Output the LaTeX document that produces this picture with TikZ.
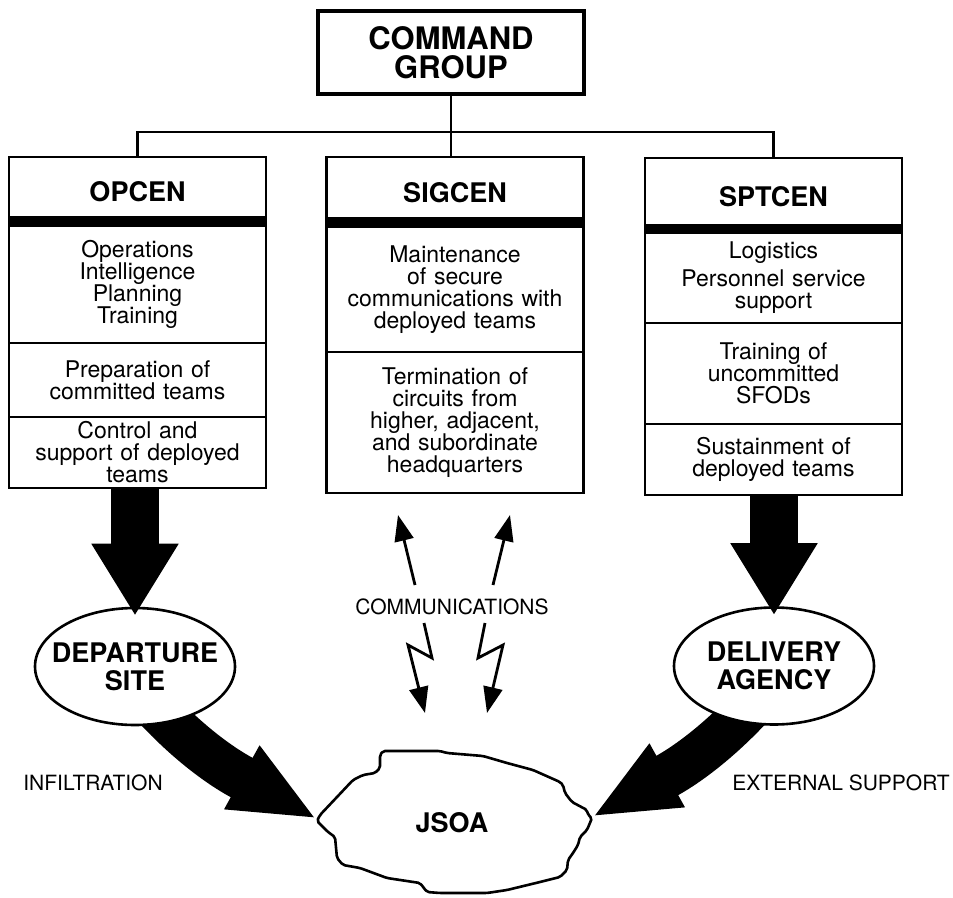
\documentclass[tikz,border=0pt]{standalone}
\usepackage{fontspec}
\setmainfont{TeX Gyre Heros}
\usetikzlibrary{arrows.meta, positioning, shapes.geometric, calc}
\pgfdeclarelayer{back}
\pgfsetlayers{back,main}

\tikzset{
  cell/.style={draw, line width=1.8pt, fill=white, text width=244pt, align=center,
    minimum width=257pt, inner sep=0pt, outer sep=0pt, font=\fontsize{23}{22}\selectfont},
  head/.style={cell, line width=2.8pt, font=\bfseries\fontsize{27}{29}\selectfont},
  colhead/.style={head, text height=29pt, text depth=0pt},
  site/.style={draw, ellipse, line width=2.6pt, fill=white, align=center,
    inner xsep=-20pt, inner ysep=0pt, minimum width=200pt, minimum height=117pt,
    font=\bfseries\fontsize{27}{28}\selectfont},
  fatarrow/.style={line width=48pt, -{Triangle[length=72pt,width=82pt]}},
  bentarrow/.style={line width=45pt, -{Triangle[length=86pt,width=66pt]}},
  commarrow/.style={line width=2.8pt, -{Triangle[length=26pt,width=19pt]}},
  caption/.style={font=\fontsize{21}{22}\selectfont},
}

\begin{document}
\begin{tikzpicture}[x=1pt, y=1pt]
\useasboundingbox (0,0) rectangle (953,-897);

% command group
\node[head, line width=3.6pt, minimum width=266pt, minimum height=83pt, anchor=north,
  font=\bfseries\fontsize{31}{29}\selectfont] (cmd) at (451,-11) {COMMAND\\GROUP};

% OPCEN
\node[colhead, minimum height=60pt, anchor=north] (opcen) at (137.5,-157) {OPCEN};
\node[cell, minimum height=117pt, below=9pt of opcen] (opA) {Operations\\Intelligence\\Planning\\Training};
\node[cell, minimum height=74pt, below=0pt of opA] (opB) {Preparation of\\committed teams};
\node[cell, minimum height=71pt, below=0pt of opB] (opC) {Control and\\support of deployed\\teams};
\fill (opcen.south west) rectangle (opA.north east);
\draw[line width=2.8pt] (opcen.north west) rectangle (opC.south east);

% SIGCEN
\node[colhead, minimum height=61pt, anchor=north] (sigcen) at (455,-157) {SIGCEN};
\node[cell, minimum height=125pt, below=9pt of sigcen] (sigA) {Maintenance\\of secure\\communications with\\deployed teams};
\node[cell, minimum height=141pt, below=0pt of sigA] (sigB) {Termination of\\circuits from\\higher, adjacent,\\and subordinate\\headquarters};
\fill (sigcen.south west) rectangle (sigA.north east);
\draw[line width=2.8pt] (sigcen.north west) rectangle (sigB.south east);

% SPTCEN
\node[colhead, minimum height=67pt, anchor=north] (sptcen) at (773.5,-158) {SPTCEN};
\node[cell, minimum height=90pt, below=8pt of sptcen] (sptA) {Logistics\\[6pt]Personnel service\\support};
\node[cell, minimum height=101pt, below=0pt of sptA] (sptB) {Training of\\uncommitted\\SFODs};
\node[cell, minimum height=71pt, below=0pt of sptB] (sptC) {Sustainment of\\deployed teams};
\fill (sptcen.south west) rectangle (sptA.north east);
\draw[line width=2.8pt] (sptcen.north west) rectangle (sptC.south east);

% tree lines
\draw[line width=2.6pt] (cmd.south) -- (cmd.south |- sigcen.north);
\draw[line width=2.6pt] (opcen.north) -- ++(0,25) -| (sptcen.north);

% sites
\node[site] (dep) at (135,-666.5) {DEPARTURE\\SITE};
\node[site] (del) at (774,-666) {DELIVERY\\AGENCY};

\draw[fatarrow, shorten >=-9pt] (opC.south -| dep.north) -- (dep.north);
\draw[fatarrow, shorten >=-9pt] (sptC.south -| del.north) -- (del.north);

% JSOA
\coordinate (jW) at (317,-819);
\coordinate (jE) at (592,-817);
\draw[line width=2.6pt, fill=white, rounded corners=2pt]
  (317,-821) -- (320,-815) -- (337,-797) -- (353,-780) -- (363,-775) -- (375,-773)
  -- (380,-768) -- (380,-755) -- (383,-751) -- (440,-751) -- (447,-753) -- (483,-756)
  -- (507,-763) -- (533,-770) -- (560,-782) -- (563,-785) -- (565,-793) -- (572,-802)
  -- (587,-810) -- (588,-815) -- (592,-818) -- (587,-830) -- (580,-837) -- (578,-845)
  -- (573,-853) -- (568,-860) -- (567,-870) -- (560,-877) -- (540,-882) -- (507,-890)
  -- (487,-893) -- (440,-893) -- (427,-892) -- (420,-883) -- (387,-878) -- (360,-868)
  -- (343,-865) -- (337,-858) -- (335,-837) -- (328,-832) -- cycle;
\node[font=\bfseries\fontsize{27}{28}\selectfont] (jsoa) at (452,-823) {JSOA};

\begin{pgfonlayer}{back}
\draw[bentarrow] ([shift={(15,-35)}]dep.center) to[out=-48, in=151] (jW);
\draw[bentarrow] ([shift={(-17,-34)}]del.center) to[out=-132, in=29] (jE);
\end{pgfonlayer}

% communications
\node[caption] (comm) at (452,-607) {COMMUNICATIONS};
\coordinate (cUl) at (415,-585);
\coordinate (cUlt) at (398,-515);
\coordinate (cUr) at (493,-585);
\coordinate (cUrt) at (510,-515);
\coordinate (cDl) at (424,-623);
\coordinate (cDlt) at (425,-713);
\coordinate (cDr) at (485,-623);
\coordinate (cDrt) at (487,-713);
\draw[commarrow] (cUl) -- (cUlt);
\draw[commarrow] (cUr) -- (cUrt);
\draw[commarrow] (cDl) -- ++(8,-35) -- ++(-24,13) -- (cDlt);
\draw[commarrow] (cDr) -- ++(-7,-35) -- ++(25,13) -- (cDrt);

% labels
\node[caption] (infil) at (93,-783) {INFILTRATION};
\node[caption] (ext) at (841,-783) {EXTERNAL SUPPORT};
\end{tikzpicture}
\end{document}
